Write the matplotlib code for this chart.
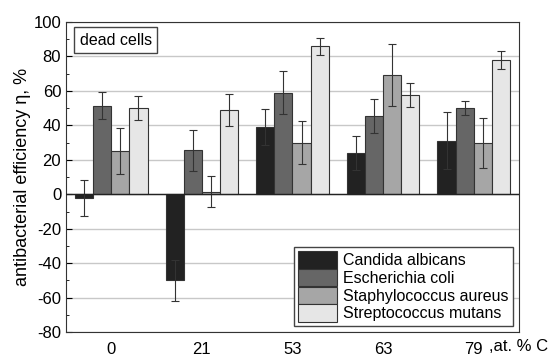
import numpy as np
import matplotlib.pyplot as plt

plt.rcParams['font.family'] = ['Liberation Sans', 'DejaVu Sans']
plt.rcParams['axes.unicode_minus'] = False

groups = ['0', '21', '53', '63', '79']
series = ['Candida albicans', 'Escherichia coli', 'Staphylococcus aureus', 'Streptococcus mutans']
colors = ['#222222', '#666666', '#a6a6a6', '#e6e6e6']

candida = [-2, -50, 39, 24, 31]
candida_err = [10.5, 12, 10.5, 10, 16.5]
ecoli = [51.5, 25.5, 59, 45.5, 50]
ecoli_err = [8, 12, 12.5, 10, 4]
staph = [25, 1.5, 30, 69.5, 29.5]
staph_err = [13.5, 9, 12.5, 18, 14.5]
strep = [50, 49, 86, 57.5, 78]
strep_err = [7, 9.5, 5, 7, 5]

values = [candida, ecoli, staph, strep]
errors = [candida_err, ecoli_err, staph_err, strep_err]

fig = plt.figure(figsize=(5.5, 3.61), dpi=100)
ax = fig.add_axes([0.12, 0.08, 0.8236, 0.859])

x = np.arange(len(groups))
w = 0.2
for i in range(4):
    ax.bar(x + (i - 1.5) * w, values[i], w, yerr=errors[i], color=colors[i],
           edgecolor='#333333', linewidth=0.8, label=series[i], zorder=3,
           error_kw=dict(ecolor='#333333', elinewidth=0.8, capsize=3, capthick=0.8))

ax.set_xlim(-0.5, 4.5)
ax.set_ylim(-80, 100)
ax.set_yticks(np.arange(-80, 101, 20))
ax.set_yticks(np.arange(-80, 101, 10), minor=True)
ax.set_xticks(x)
ax.set_xticklabels(groups)
ax.tick_params(axis='both', labelsize=12, direction='in', length=4)
ax.tick_params(axis='x', length=0, pad=7)
ax.tick_params(axis='y', which='minor', direction='in', length=2)
ax.yaxis.grid(True, color='#c8c8c8', linewidth=1, zorder=0)
ax.axhline(0, color='#222222', linewidth=1, zorder=4)
for s in ax.spines.values():
    s.set_color('#333333')

ax.set_ylabel('antibacterial efficiency η, %', fontsize=13, labelpad=2)
ax.text(4.17, -0.0225, ',at. % C', transform=ax.get_xaxis_transform(), fontsize=12,
        ha='left', va='top')

ax.text(0.03, 0.965, 'dead cells', transform=ax.transAxes, fontsize=11.5, va='top', ha='left',
        bbox=dict(boxstyle='square,pad=0.35', facecolor='white', edgecolor='#444444'))

leg = ax.legend(loc='lower right', fontsize=11.5, fancybox=False, edgecolor='#444444',
                framealpha=1, handlelength=2.4, handleheight=1.3, labelspacing=0.02,
                handletextpad=0.4, borderpad=0.25, borderaxespad=0.4)

plt.savefig('out.png', dpi=100)
